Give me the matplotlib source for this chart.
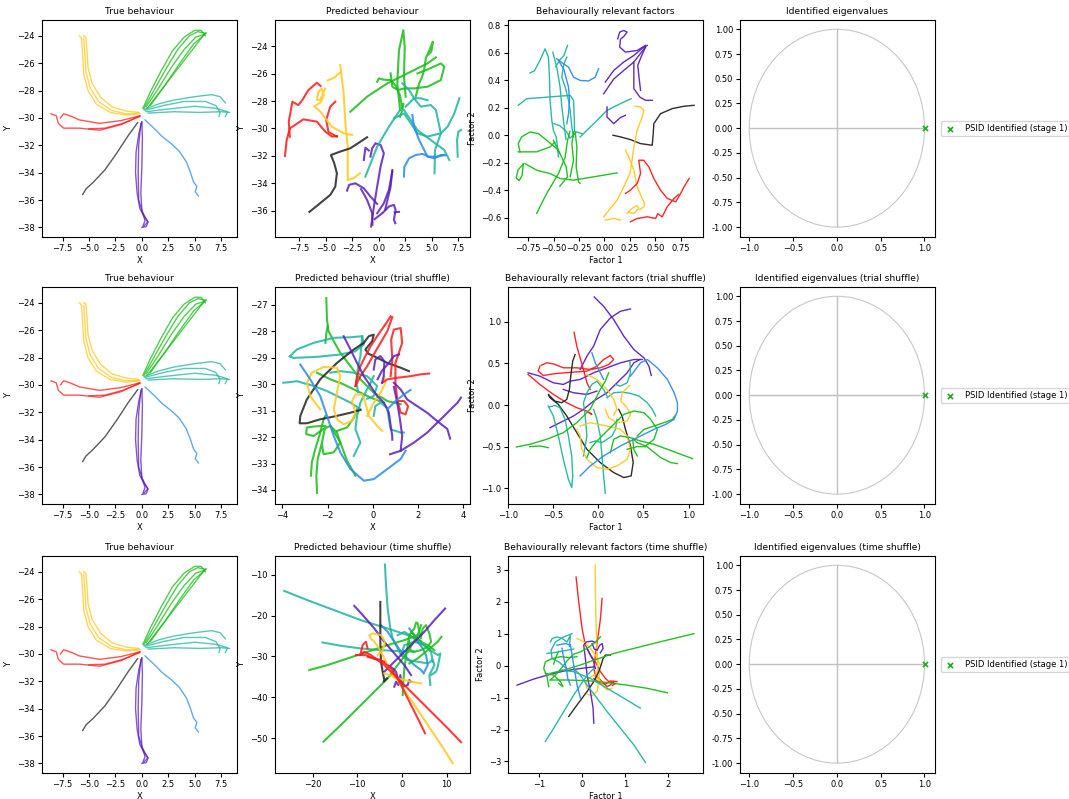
import numpy as np
import matplotlib
matplotlib.use("Agg")
import matplotlib.pyplot as plt
from matplotlib.patches import Circle

COLORS = {
    'red': '#FF1A1A', 'yellow': '#FFC81E', 'black': '#222222', 'purple': '#5A1EBE',
    'blue': '#2D8CE6', 'teal': '#20B4A0', 'green': '#16BE16',
}

# ---- true behaviour (same in all three rows) ----
true_traj = {
    'yellow': [
        [(-0.2, -29.7), (-1.5, -29.8), (-3.0, -29.6), (-4.3, -29.0), (-5.1, -28.0), (-5.5, -26.8), (-5.6, -25.5), (-5.7, -24.2), (-5.9, -24.0)],
        [(-0.3, -29.6), (-1.5, -29.5), (-2.8, -29.2), (-3.9, -28.5), (-4.7, -27.5), (-5.1, -26.3), (-5.2, -25.0), (-5.3, -24.1), (-5.5, -24.0)],
        [(-0.25, -29.65), (-1.5, -29.7), (-2.9, -29.45), (-4.1, -28.8), (-4.9, -27.8), (-5.3, -26.6), (-5.4, -25.3), (-5.5, -24.2)],
    ],
    'red': [
        [(-8.6, -29.7), (-8.1, -29.85), (-7.9, -30.4), (-7.4, -30.75), (-5.9, -30.75), (-4.0, -30.9), (-2.0, -30.5), (-0.2, -29.85)],
        [(-7.7, -30.0), (-7.4, -29.7), (-6.8, -29.85), (-5.9, -30.15), (-4.0, -30.4), (-2.0, -30.2), (-0.2, -29.85)],
        [(-5.0, -30.8), (-3.5, -30.75), (-1.8, -30.4), (-0.2, -29.9)],
    ],
    'black': [
        [(-0.4, -30.35), (-1.3, -31.3), (-2.4, -32.6), (-3.5, -33.8), (-4.6, -34.7), (-5.3, -35.2), (-5.6, -35.6)],
    ],
    'purple': [
        [(0.0, -30.3), (-0.3, -31.2), (-0.55, -32.5), (-0.6, -34.0), (-0.45, -35.5), (-0.2, -36.6), (0.2, -37.2), (0.6, -37.6), (0.4, -37.95), (0.0, -38.0)],
        [(0.0, -30.3), (0.05, -31.5), (0.0, -33.5), (-0.1, -35.5), (0.0, -36.8), (0.35, -37.3), (0.55, -37.6), (0.2, -37.9)],
        [(-0.1, -30.4), (-0.3, -32.0), (-0.35, -34.0), (-0.3, -36.0), (0.1, -37.0), (0.3, -37.5), (0.1, -37.9)],
    ],
    'blue': [
        [(0.3, -30.15), (1.2, -30.8), (1.9, -31.35), (2.8, -31.9), (3.5, -32.4), (4.2, -33.2), (4.6, -34.0), (4.9, -34.7), (5.2, -35.0), (5.05, -35.4), (5.35, -35.7)],
    ],
    'teal': [
        [(0.2, -29.4), (1.5, -29.0), (3.0, -28.7), (5.0, -28.45), (6.6, -28.3), (7.4, -28.45), (7.9, -28.9)],
        [(0.3, -29.45), (2.0, -29.1), (4.0, -28.8), (6.0, -28.8), (7.0, -29.1), (7.4, -29.6), (7.3, -29.9)],
        [(0.4, -29.55), (2.5, -29.35), (5.0, -29.15), (7.0, -29.3), (8.1, -29.55), (7.9, -29.9)],
        [(0.6, -29.65), (3.0, -29.55), (5.5, -29.6), (7.5, -29.55), (8.3, -29.6)],
    ],
    'green': [
        [(0.1, -29.3), (0.8, -28.1), (1.8, -26.6), (2.9, -25.1), (4.0, -24.1), (5.0, -23.6), (5.6, -23.6), (6.0, -24.0)],
        [(0.2, -29.3), (1.2, -27.9), (2.3, -26.4), (3.4, -25.0), (4.5, -24.0), (5.3, -23.7), (5.9, -23.8)],
        [(0.4, -29.2), (1.6, -27.8), (2.8, -26.3), (4.0, -25.0), (5.1, -24.1), (5.9, -23.9)],
        [(0.8, -29.1), (2.2, -27.6), (3.6, -26.0), (4.9, -24.6), (5.8, -24.0), (6.1, -23.8)],
        [(0.5, -29.3), (2.5, -27.3), (4.4, -25.4), (5.6, -24.2), (6.0, -23.8)],
    ],
}

# ---- predicted behaviour ----
pred_plain = {
    'red': [
        [(-8.4, -30.6), (-8.5, -29.5), (-8.16, -28.05), (-7.6, -28.3), (-7.2, -27.9), (-6.65, -27.2), (-5.85, -26.67), (-5.5, -26.9)],
        [(-8.86, -32.0), (-8.7, -30.84), (-8.39, -29.99), (-7.12, -29.33), (-5.85, -29.5), (-5.06, -30.23), (-4.43, -30.59), (-3.96, -30.55)],
        [(-3.96, -30.6), (-4.75, -30.25), (-4.97, -29.38), (-4.59, -28.41), (-4.11, -28.05)],
    ],
    'yellow': [
        [(-3.64, -25.38), (-3.32, -27.44), (-3.16, -29.62), (-2.94, -31.32), (-2.94, -33.75), (-2.37, -33.62), (-1.8, -33.26)],
        [(-4.84, -26.5), (-4.2, -26.3), (-3.64, -25.9)],
        [(-5.06, -27.08), (-5.54, -27.93), (-5.85, -27.9), (-5.7, -27.3), (-5.4, -27.1), (-5.2, -27.6), (-5.5, -28.1), (-6.1, -28.4),
         (-5.54, -28.75), (-4.43, -29.87), (-3.32, -30.35), (-2.53, -30.47)],
    ],
    'black': [
        [(-6.55, -36.07), (-5.54, -35.44), (-4.59, -34.84), (-4.11, -34.23), (-3.96, -33.26), (-4.21, -32.53), (-4.52, -31.93),
         (-3.64, -31.68), (-2.69, -31.44), (-1.74, -30.96), (-1.11, -30.64)],
    ],
    'purple': [
        [(-0.73, -37.14), (-0.47, -35.69), (-0.16, -34.23), (0.16, -32.78), (0.47, -31.81), (0.16, -31.2), (-0.32, -31.08), (-0.63, -31.44), (-0.79, -32.05)],
        [(-1.42, -32.29), (-1.27, -31.4), (-0.95, -31.6)],
        [(-3.0, -34.52), (-2.8, -34.1), (-2.22, -33.99), (-1.42, -34.35), (-0.79, -34.96), (-0.16, -35.49)],
        [(-1.68, -34.41), (-1.11, -35.2), (-0.63, -36.17), (-0.6, -37.0)],
        [(-0.16, -36.17), (0.47, -35.44), (0.95, -34.47), (1.27, -33.14)],
        [(-0.4, -36.6), (0.32, -36.17), (0.95, -35.68), (1.42, -35.56), (1.58, -35.93), (1.42, -36.65), (1.55, -36.9)],
        [(0.6, -35.9), (1.11, -34.23), (1.27, -33.02)],
        [(1.49, -36.1), (1.9, -36.07)],
    ],
    'green': [
        [(2.0, -28.65), (1.74, -26.72), (1.9, -24.29), (2.31, -22.84), (2.44, -24.05), (2.37, -26.23), (2.53, -27.68)],
        [(-2.69, -28.78), (-1.11, -27.68), (0.79, -26.72), (2.69, -25.99), (4.59, -25.26), (5.38, -24.82)],
        [(-0.16, -26.6), (0.0, -26.35), (0.5, -26.45), (1.11, -26.47), (1.6, -26.9), (2.0, -27.6), (2.2, -28.5)],
        [(1.11, -25.99), (1.27, -26.96), (1.8, -27.2), (2.37, -27.08), (3.32, -27.08), (4.59, -26.96), (5.85, -26.47), (6.17, -25.5),
         (5.85, -25.26), (4.6, -25.7), (3.64, -25.99)],
        [(3.48, -27.68), (3.8, -26.72), (4.1, -26.2), (4.27, -25.75), (4.43, -24.9), (4.9, -24.05), (5.1, -23.68), (4.95, -24.4), (4.7, -24.6)],
        [(2.0, -29.14), (2.2, -28.7), (2.3, -28.2)],
    ],
    'teal': [
        [(-1.27, -33.5), (-0.16, -31.32), (0.95, -29.87), (2.0, -28.65)],
        [(1.42, -29.26), (2.37, -28.9), (3.01, -29.62), (3.64, -30.35), (4.59, -30.59), (5.85, -30.35), (6.49, -29.87), (7.12, -28.9), (7.6, -27.8)],
        [(2.22, -26.72), (2.85, -27.2), (3.32, -27.8), (3.96, -28.41), (4.9, -28.29), (5.38, -28.65), (5.85, -30.35), (5.3, -31.56), (5.25, -33.26)],
        [(2.37, -28.65), (3.64, -30.11), (4.9, -30.84), (6.17, -31.56), (6.65, -32.29)],
        [(7.44, -32.05), (7.38, -30.84), (7.5, -30.23), (7.76, -30.11)],
        [(2.53, -28.41), (3.32, -27.8), (3.96, -27.8), (4.6, -27.95)],
    ],
    'blue': [
        [(2.37, -33.5), (2.4, -32.8), (2.85, -32.17), (3.48, -31.93), (4.11, -31.85), (4.75, -32.05), (5.54, -32.05), (6.17, -31.93)],
        [(3.16, -29.02), (3.32, -29.87), (3.8, -30.84), (4.59, -32.05), (5.22, -32.17), (5.85, -31.93), (6.3, -31.95)],
    ],
}

pred_trial = {
    'green': [
        [(-2.06, -26.75), (-2.03, -27.56), (-1.96, -28.0), (-1.73, -28.38), (-1.44, -28.82), (-0.99, -29.32), (-0.55, -29.82), (0.04, -30.32), (0.64, -30.64), (1.23, -30.76)],
        [(-2.1, -28.44), (-2.06, -28.1), (-2.0, -27.8)],
        [(-2.47, -29.57), (-1.88, -29.82), (-1.29, -30.01), (-0.7, -30.26), (-0.1, -30.51), (0.49, -30.7)],
        [(-2.47, -34.11), (-2.5, -33.46), (-2.44, -32.83), (-2.25, -32.21), (-2.1, -31.58), (-2.19, -31.58), (-2.6, -31.6), (-2.92, -31.64),
         (-2.95, -31.89), (-2.62, -31.96), (-2.2, -31.7), (-1.88, -31.58), (-1.59, -31.83), (-1.44, -32.21), (-1.73, -32.58), (-2.18, -32.65), (-2.25, -32.3)],
        [(-2.74, -33.46), (-2.7, -32.96), (-2.55, -32.46), (-2.35, -31.9), (-2.18, -31.33), (-2.1, -31.2)],
        [(-1.88, -31.58), (-1.44, -32.2), (-1.14, -32.9), (-0.77, -33.46)],
        [(-1.59, -31.77), (-1.14, -31.64), (-0.84, -31.27), (-0.7, -30.95)],
    ],
    'teal': [
        [(-3.96, -29.95), (-3.36, -29.89), (-2.62, -30.07), (-2.03, -30.26), (-1.44, -30.51), (-0.99, -30.7), (-0.55, -30.95)],
        [(-3.66, -28.94), (-3.36, -28.69), (-2.62, -28.44), (-1.73, -28.25), (-0.99, -28.23), (-0.47, -28.19), (-0.4, -28.5),
         (-0.77, -28.76), (-1.44, -28.88), (-2.47, -28.97), (-3.51, -29.01), (-3.68, -28.95)],
        [(-1.88, -29.57), (-1.44, -29.51), (-0.84, -29.57), (-0.25, -29.7), (0.19, -30.07), (0.04, -30.45), (-0.25, -30.55)],
        [(-0.84, -32.71), (-0.7, -32.46), (-0.55, -32.21), (-0.77, -31.7), (-0.7, -31.2), (-0.55, -30.7), (-0.33, -30.32), (-0.1, -29.95), (0.04, -29.7)],
        [(0.04, -31.2), (0.11, -30.83), (0.34, -30.7), (0.64, -30.9), (0.71, -31.33), (0.79, -31.71), (1.23, -31.83), (1.38, -31.83)],
        [(-0.47, -28.19), (-0.55, -28.94), (-0.67, -29.45), (-0.73, -29.95), (-0.65, -30.3)],
    ],
    'black': [
        [(-0.55, -30.98), (-0.99, -31.08), (-1.59, -31.2), (-2.33, -31.33), (-2.92, -31.48), (-3.24, -31.48), (-3.21, -31.2), (-2.92, -30.58),
         (-2.33, -29.82), (-1.59, -29.2), (-0.84, -28.69), (-0.4, -28.44), (-0.18, -28.19), (0.04, -28.13), (-0.03, -28.38), (-0.33, -28.69),
         (-0.2, -28.85), (0.04, -28.94), (0.64, -29.2), (1.23, -29.38), (1.6, -29.51)],
    ],
    'yellow': [
        [(-2.33, -30.95), (-2.77, -30.45), (-2.92, -29.95), (-2.7, -29.57), (-2.18, -29.35), (-1.59, -29.38), (-1.44, -29.7), (-1.59, -30.32),
         (-1.73, -30.95), (-1.59, -31.33), (-1.29, -31.52), (-0.92, -31.39), (-0.77, -31.08), (-0.92, -30.64), (-0.77, -30.39), (-0.47, -30.39),
         (-0.33, -30.7), (-0.18, -31.2), (0.19, -31.58), (0.41, -31.77)],
        [(-0.25, -31.2), (0.04, -30.7), (0.34, -30.32), (0.56, -29.95), (0.5, -29.7)],
    ],
    'red': [
        [(-0.77, -30.07), (-0.7, -29.7), (-0.55, -29.32), (-0.33, -28.94), (-0.1, -28.57), (0.19, -28.19), (0.49, -27.82), (0.79, -27.44)],
        [(-0.77, -30.07), (-0.55, -29.7), (-0.25, -29.32), (0.04, -28.88), (0.34, -28.44), (0.64, -28.0), (0.86, -27.47)],
        [(0.79, -29.7), (0.86, -29.07), (0.81, -28.32), (0.93, -27.94), (1.23, -27.88), (1.3, -28.44), (1.0, -29.2), (1.0, -29.95),
         (1.08, -30.58), (1.23, -31.08), (1.45, -31.14), (1.56, -30.83), (1.38, -30.64), (1.08, -30.64)],
        [(0.41, -29.95), (0.64, -29.82), (1.08, -29.76), (1.67, -29.7), (2.12, -29.63), (2.49, -29.6)],
    ],
    'purple': [
        [(-1.29, -28.19), (-0.99, -28.69), (-0.7, -29.2), (-0.4, -29.7), (-0.1, -30.07), (0.19, -30.45), (0.49, -30.7), (0.71, -31.08),
         (0.79, -31.58), (0.86, -31.96), (0.86, -32.1)],
        [(0.04, -29.45), (0.11, -29.07), (0.34, -28.94), (0.51, -29.14), (0.48, -29.7), (0.41, -29.95)],
        [(0.21, -29.82), (0.4, -29.5), (0.71, -29.2), (0.93, -28.94), (1.16, -28.88)],
        [(0.76, -32.65), (1.23, -32.52), (1.82, -32.21), (2.41, -31.83), (2.86, -31.45), (3.16, -31.2), (3.45, -30.95), (3.75, -30.7), (3.9, -30.51)],
        [(3.42, -32.06), (3.3, -31.7), (2.84, -31.39), (2.4, -31.08), (1.96, -30.83), (1.52, -30.58), (1.23, -30.2), (0.93, -29.95)],
        [(1.23, -32.52), (1.3, -31.96), (1.2, -31.33), (1.08, -30.7), (0.93, -30.1)],
    ],
    'blue': [
        [(-3.21, -29.26), (-2.77, -29.82), (-2.33, -30.45), (-2.03, -31.2), (-1.73, -31.96), (-1.44, -32.58), (-0.99, -33.21), (-0.4, -33.65),
         (0.04, -33.59), (0.64, -33.21), (1.23, -32.83), (1.45, -32.52)],
        [(0.64, -30.95), (1.0, -30.64), (1.38, -30.39), (1.67, -30.22)],
    ],
}

pred_time = {
    'teal': [
        [(-26.34, -13.98), (-21.12, -16.26), (-15.15, -18.7), (-9.18, -21.14), (-3.21, -23.17), (1.27, -24.8), (4.25, -26.26)],
        [(-17.76, -26.59), (-13.66, -27.4), (-9.18, -28.05), (-4.7, -28.46), (-0.97, -28.7), (2.76, -28.86)],
        [(-3.81, -7.56), (-3.58, -12.6), (-3.21, -18.29), (-2.61, -23.17), (-2.09, -25.61), (-0.97, -28.05), (-0.22, -29.67), (1.27, -30.9),
         (3.51, -31.3), (5.75, -31.71), (6.87, -30.89), (7.24, -32.11), (6.12, -34.55), (6.34, -37.0)],
        [(-0.97, -24.8), (0.52, -23.98), (2.0, -25.0), (3.5, -26.4), (5.37, -27.64), (6.87, -28.86), (7.99, -29.67), (8.58, -29.27),
         (7.99, -32.52), (7.61, -33.74), (6.5, -34.55)],
        [(-0.22, -29.67), (0.52, -27.24), (2.76, -26.42), (5.0, -27.24), (6.5, -28.9), (6.87, -31.3)],
    ],
    'blue': [
        [(-4.7, -22.36), (-3.21, -23.98), (-1.72, -26.42), (-0.22, -28.86), (1.27, -30.49), (2.76, -32.11), (4.25, -33.33), (4.85, -34.15)],
        [(1.64, -23.17), (2.76, -24.8), (3.51, -26.42), (4.63, -28.05), (5.37, -29.67), (5.75, -32.11), (5.0, -33.74)],
    ],
    'green': [
        [(-17.54, -50.81), (-13.66, -46.75), (-9.93, -42.68), (-6.19, -38.62), (-3.21, -35.37), (-0.97, -32.11), (1.27, -28.86), (3.51, -24.8), (4.25, -22.36)],
        [(-20.75, -33.33), (-16.64, -32.11), (-12.16, -30.49), (-7.69, -28.86), (-3.21, -27.24), (0.52, -26.02), (3.51, -24.8)],
        [(0.15, -39.43), (0.3, -36.18), (0.52, -32.93), (0.9, -30.0), (1.27, -27.2), (1.64, -24.8), (2.76, -23.17), (3.13, -21.71), (3.5, -21.9),
         (3.88, -24.0), (4.2, -25.6), (4.63, -23.17), (5.37, -22.36), (6.12, -24.39), (6.5, -26.42), (5.75, -27.64), (4.25, -28.46), (2.76, -28.86),
         (1.9, -28.5), (1.6, -26.4)],
        [(1.64, -31.71), (3.51, -30.49), (5.75, -28.46), (7.99, -26.42), (8.8, -25.2)],
        [(2.01, -23.98), (3.1, -25.2), (4.25, -26.42), (5.75, -27.24), (7.24, -28.46)],
    ],
    'purple': [
        [(-10.67, -17.64), (-8.43, -20.33), (-6.19, -23.17), (-3.96, -26.42), (-1.72, -29.27), (0.52, -32.11), (2.01, -34.55)],
        [(9.63, -18.29), (7.24, -21.14), (5.0, -23.98), (2.01, -27.24), (-0.22, -29.67), (-2.46, -32.11), (-3.96, -33.74)],
        [(-1.72, -37.4), (-1.34, -36.18), (-0.82, -37.0), (-0.37, -34.55), (-0.2, -36.2), (0.15, -37.4), (1.27, -37.0), (1.64, -35.77), (2.0, -36.2)],
        [(-3.21, -32.11), (-2.1, -32.9), (-1.34, -33.74), (-0.97, -35.2)],
    ],
    'black': [
        [(-4.85, -16.67), (-4.85, -21.54), (-4.85, -26.42), (-4.7, -31.3), (-4.33, -33.74), (-3.96, -35.77), (-4.1, -36.18), (-3.36, -35.37)],
    ],
    'yellow': [
        [(11.34, -56.1), (8.73, -51.63), (5.75, -46.75), (2.76, -41.87), (-0.22, -37.0), (-2.46, -33.74), (-3.96, -30.49), (-5.07, -28.05),
         (-6.19, -26.42), (-6.94, -25.61), (-7.31, -24.8), (-6.57, -24.39), (-4.7, -24.8), (-3.81, -26.42), (-4.33, -28.46), (-5.45, -29.67)],
        [(-3.96, -34.15), (-0.97, -35.37), (2.01, -36.18), (4.25, -36.59)],
    ],
    'red': [
        [(13.21, -50.98), (10.22, -47.56), (6.49, -43.5), (2.76, -39.43), (-0.22, -36.18), (-2.46, -33.74), (-3.96, -32.11), (-5.45, -30.89),
         (-6.94, -29.67), (-8.43, -28.86), (-9.33, -29.67), (-8.81, -27.24), (-8.06, -26.42), (-7.7, -28.05)],
        [(5.15, -48.78), (3.88, -45.93), (2.01, -41.87), (0.52, -38.62), (-0.97, -35.37), (-2.46, -32.93), (-4.7, -30.89), (-6.19, -30.49), (-7.7, -30.1)],
        [(-10.3, -29.67), (-8.06, -29.67), (-6.19, -30.6), (-3.96, -31.3)],
    ],
}

# ---- behaviourally relevant factors ----
fac_plain = {
    'teal': [
        [(-0.734, 0.454), (-0.69, 0.47), (-0.635, 0.546), (-0.585, 0.630), (-0.552, 0.57), (-0.542, 0.424), (-0.536, 0.255), (-0.519, 0.11),
         (-0.503, 0.037), (-0.476, -0.011), (-0.463, -0.084), (-0.453, -0.157)],
        [(-0.509, 0.606), (-0.47, 0.497), (-0.437, 0.352), (-0.42, 0.207), (-0.404, 0.11), (-0.387, 0.013), (-0.38, -0.03)],
        [(-0.849, 0.219), (-0.766, 0.267), (-0.635, 0.274), (-0.47, 0.284), (-0.338, 0.291), (-0.305, 0.255), (-0.298, 0.134), (-0.295, 0.037)],
        [(-0.371, 0.57), (-0.40, 0.52), (-0.42, 0.424), (-0.387, 0.352), (-0.354, 0.255), (-0.338, 0.182), (-0.321, 0.061), (-0.305, -0.011)],
        [(-0.364, 0.655), (-0.40, 0.58), (-0.44, 0.55), (-0.48, 0.50)],
        [(-0.239, -0.011), (-0.107, 0.085), (0.025, 0.182), (0.157, 0.231), (0.262, 0.267)],
        [(-0.496, 0.085), (-0.44, 0.07), (-0.371, 0.025), (-0.34, -0.02), (-0.272, 0.025), (-0.222, 0.013)],
    ],
    'blue': [
        [(-0.47, 0.558), (-0.42, 0.53), (-0.354, 0.497), (-0.305, 0.424), (-0.239, 0.40), (-0.157, 0.396), (-0.091, 0.424), (-0.058, 0.485)],
        [(-0.453, 0.546), (-0.40, 0.48), (-0.354, 0.352), (-0.344, 0.255), (-0.354, 0.158), (-0.371, 0.085)],
    ],
    'purple': [
        [(0.13, 0.703), (0.15, 0.752), (0.19, 0.764), (0.223, 0.752), (0.19, 0.72), (0.157, 0.70), (0.15, 0.643), (0.206, 0.606), (0.321, 0.618), (0.404, 0.655)],
        [(0.008, 0.388), (0.091, 0.473), (0.19, 0.534), (0.289, 0.582), (0.388, 0.643), (0.421, 0.655)],
        [(-0.008, 0.303), (0.091, 0.41), (0.19, 0.473), (0.289, 0.534), (0.404, 0.643)],
        [(0.025, 0.207), (0.025, 0.134), (0.091, 0.085), (0.157, 0.13), (0.206, 0.146)],
        [(0.289, 0.534), (0.289, 0.424), (0.289, 0.34), (0.348, 0.279), (0.404, 0.255), (0.47, 0.255)],
        [(0.355, 0.328), (0.34, 0.424), (0.328, 0.51), (0.36, 0.57), (0.404, 0.643)],
    ],
    'black': [
        [(0.084, 0.001), (0.157, -0.011), (0.256, -0.031), (0.355, -0.06), (0.47, -0.072), (0.48, 0.013), (0.486, 0.085), (0.552, 0.158),
         (0.668, 0.195), (0.783, 0.212), (0.882, 0.219)],
    ],
    'yellow': [
        [(-0.008, -0.593), (0.058, -0.532), (0.124, -0.471), (0.19, -0.375), (0.25, -0.278), (0.272, -0.181), (0.289, -0.084), (0.322, 0.037),
         (0.371, 0.134), (0.388, 0.182), (0.355, 0.207), (0.30, 0.212)],
        [(0.206, -0.108), (0.239, -0.157), (0.289, -0.254), (0.322, -0.375), (0.36, -0.44), (0.394, -0.496), (0.388, -0.52), (0.35, -0.54)],
        [(0.223, -0.568), (0.272, -0.532), (0.32, -0.51), (0.338, -0.532), (0.29, -0.568), (0.24, -0.56)],
        [(0.008, -0.617), (0.091, -0.605), (0.157, -0.617)],
    ],
    'red': [
        [(0.206, -0.423), (0.256, -0.399), (0.322, -0.35), (0.355, -0.278), (0.338, -0.181), (0.386, -0.181), (0.437, -0.23), (0.486, -0.314),
         (0.552, -0.399), (0.618, -0.459), (0.701, -0.484), (0.75, -0.423), (0.783, -0.375), (0.833, -0.314)],
        [(0.256, -0.629), (0.322, -0.605), (0.421, -0.593), (0.503, -0.605), (0.525, -0.57), (0.568, -0.593), (0.618, -0.52), (0.684, -0.46), (0.73, -0.43)],
    ],
    'green': [
        [(-0.668, -0.568), (-0.569, -0.423), (-0.453, -0.278), (-0.387, -0.157), (-0.364, -0.036), (-0.34, 0.03)],
        [(-0.832, -0.12), (-0.849, -0.06), (-0.816, -0.011), (-0.734, 0.025), (-0.651, 0.013), (-0.569, -0.036), (-0.47, -0.096), (-0.44, -0.13)],
        [(-0.849, -0.12), (-0.668, -0.12), (-0.536, -0.084), (-0.49, -0.05)],
        [(-0.783, -0.205), (-0.668, -0.254), (-0.536, -0.278), (-0.437, -0.314), (-0.305, -0.326), (-0.107, -0.302), (0.124, -0.273)],
        [(-0.80, -0.21), (-0.85, -0.25), (-0.87, -0.31), (-0.84, -0.33), (-0.81, -0.29), (-0.80, -0.21)],
        [(-0.338, -0.301), (-0.305, -0.181), (-0.321, -0.06), (-0.305, 0.025), (-0.29, 0.03), (-0.272, -0.084), (-0.279, -0.229), (-0.255, -0.338), (-0.24, -0.35)],
        [(-0.503, -0.036), (-0.44, -0.13), (-0.377, -0.23), (-0.364, -0.302), (-0.44, -0.37)],
    ],
}

fac_trial = {
    'purple': [
        [(-0.045, 1.30), (0.059, 1.188), (0.171, 1.028), (0.283, 0.828), (0.394, 0.668), (0.506, 0.568), (0.561, 0.468), (0.587, 0.356)],
        [(-0.201, 0.428), (-0.126, 0.588), (-0.052, 0.708), (0.022, 0.908), (0.134, 1.048), (0.245, 1.128), (0.357, 1.156)],
        [(-0.535, -0.272), (-0.424, -0.212), (-0.275, -0.132), (-0.164, -0.052), (-0.052, 0.048), (0.097, 0.148), (0.208, 0.268), (0.32, 0.388), (0.394, 0.508), (0.461, 0.548)],
        [(-0.777, 0.388), (-0.647, 0.348), (-0.498, 0.268), (-0.387, 0.248), (-0.312, 0.288), (-0.201, 0.308), (-0.052, 0.388), (0.097, 0.448),
         (0.245, 0.508), (0.394, 0.548), (0.487, 0.548)],
        [(-0.387, 0.188), (-0.275, 0.148), (-0.126, 0.128), (-0.015, 0.168)],
    ],
    'red': [
        [(-0.268, 0.876), (-0.238, 0.708), (-0.201, 0.568), (-0.164, 0.428), (-0.126, 0.268), (-0.089, 0.188)],
        [(-0.777, 0.368), (-0.647, 0.248), (-0.498, 0.128), (-0.349, 0.028), (-0.238, -0.032), (-0.126, -0.072), (-0.071, -0.112), (-0.1, -0.095)],
        [(-0.647, 0.468), (-0.665, 0.408), (-0.61, 0.356), (-0.461, 0.38), (-0.275, 0.396), (-0.126, 0.408), (-0.015, 0.468), (0.059, 0.548),
         (0.134, 0.596), (0.171, 0.548), (0.115, 0.488), (0.022, 0.448), (-0.089, 0.428), (-0.238, 0.448), (-0.387, 0.448), (-0.498, 0.496),
         (-0.572, 0.508), (-0.63, 0.48)],
    ],
    'black': [
        [(-0.257, 0.608), (-0.283, 0.528), (-0.305, 0.348), (-0.32, 0.188), (-0.349, 0.068), (-0.405, 0.028), (-0.48, 0.048), (-0.554, 0.128),
         (-0.535, 0.088), (-0.442, 0.008), (-0.349, -0.132), (-0.238, -0.332), (-0.126, -0.532), (0.022, -0.692), (0.171, -0.812), (0.283, -0.872),
         (0.364, -0.852), (0.387, -0.692), (0.357, -0.492), (0.301, -0.292), (0.264, -0.132), (0.227, -0.052)],
    ],
    'teal': [
        [(-0.554, -0.012), (-0.498, -0.132), (-0.442, -0.372), (-0.387, -0.652), (-0.331, -0.892), (-0.294, -0.992), (-0.283, -0.852),
         (-0.294, -0.612), (-0.331, -0.372), (-0.368, -0.172), (-0.424, -0.032), (-0.48, -0.004), (-0.535, -0.02)],
        [(-0.164, -0.612), (-0.126, -0.372), (-0.145, -0.132), (-0.164, 0.028), (-0.126, 0.148), (-0.071, 0.248), (-0.015, 0.288), (0.059, 0.188), (0.097, 0.108)],
        [(-0.052, -0.052), (-0.015, -0.172), (0.022, -0.372), (0.041, -0.612), (0.059, -0.852), (0.078, -1.06)],
        [(0.097, 0.088), (0.171, 0.148), (0.264, 0.156), (0.357, 0.14), (0.45, 0.108), (0.543, 0.028), (0.599, -0.052), (0.636, -0.132)],
        [(0.19, 0.248), (0.245, 0.228), (0.32, 0.268), (0.357, 0.388), (0.35, 0.528)],
        [(-0.089, -0.452), (-0.033, -0.432), (0.041, -0.452), (0.097, -0.412), (0.152, -0.372), (0.19, -0.292), (0.208, -0.172)],
    ],
    'yellow': [
        [(-0.238, -0.292), (-0.201, -0.372), (-0.182, -0.532), (-0.126, -0.652), (-0.015, -0.752), (0.097, -0.772), (0.208, -0.732), (0.32, -0.652),
         (0.357, -0.532), (0.32, -0.372), (0.245, -0.292), (0.097, -0.252), (-0.089, -0.212), (-0.201, -0.252)],
        [(-0.126, 0.368), (-0.015, 0.308), (0.097, 0.188), (0.171, 0.068), (0.208, -0.052), (0.17, -0.12)],
        [(0.078, -0.052), (0.115, -0.152), (0.208, -0.212), (0.32, -0.192), (0.357, -0.112), (0.32, -0.032), (0.25, 0.048), (0.264, 0.148),
         (0.32, 0.208), (0.35, 0.236)],
    ],
    'green': [
        [(-0.907, -0.504), (-0.758, -0.472), (-0.572, -0.412), (-0.387, -0.332), (-0.238, -0.212), (-0.164, -0.132), (-0.09, -0.05), (-0.033, 0.068),
         (0.022, 0.188), (0.078, 0.288), (0.115, 0.388)],
        [(-0.554, -0.512), (-0.647, -0.492), (-0.758, -0.50)],
        [(-0.126, -0.632), (-0.089, -0.532), (-0.03, -0.45), (0.041, -0.372), (0.115, -0.292), (0.208, -0.192), (0.283, -0.112), (0.394, -0.072),
         (0.506, -0.092), (0.58, -0.172), (0.654, -0.292), (0.617, -0.412), (0.524, -0.492), (0.431, -0.452), (0.38, -0.4), (0.394, -0.532), (0.431, -0.612)],
        [(0.134, -0.572), (0.171, -0.412), (0.245, -0.372), (0.357, -0.392), (0.468, -0.432), (0.617, -0.472), (0.766, -0.532), (0.914, -0.592), (1.045, -0.644)],
        [(0.32, -0.532), (0.43, -0.5), (0.54, -0.5), (0.691, -0.632), (0.803, -0.692), (0.877, -0.704)],
        [(0.431, -0.372), (0.506, -0.292), (0.617, -0.252), (0.747, -0.204), (0.822, -0.172), (0.848, -0.132)],
    ],
    'blue': [
        [(-0.201, -0.852), (-0.089, -0.732), (0.059, -0.612), (0.245, -0.492), (0.431, -0.392), (0.617, -0.292), (0.747, -0.232), (0.84, -0.172),
         (0.877, -0.072), (0.877, 0.028), (0.84, 0.148), (0.766, 0.308), (0.654, 0.448), (0.543, 0.548), (0.468, 0.508), (0.412, 0.428), (0.357, 0.348)],
        [(-0.071, 0.628), (-0.033, 0.508), (0.022, 0.388), (0.059, 0.308)],
    ],
}

fac_time = {
    'red': [
        [(-0.145, 2.77), (-0.083, 1.99), (-0.005, 1.16), (0.072, 0.64), (0.189, 0.33), (0.305, 0.12), (0.422, -0.19), (0.538, -0.4), (0.616, -0.5), (0.772, -0.56), (0.70, -0.62)],
        [(0.461, 2.1), (0.422, 1.47), (0.36, 0.85), (0.305, 0.33), (0.267, -0.09), (0.305, -0.3), (0.461, -0.5), (0.577, -0.66), (0.655, -0.6), (0.733, -0.5)],
        [(0.267, -0.4), (0.422, -0.56), (0.54, -0.58), (0.65, -0.48), (0.81, -0.5)],
    ],
    'yellow': [
        [(0.298, 3.14), (0.305, 2.41), (0.313, 1.68), (0.329, 0.95), (0.344, 0.33), (0.36, -0.09), (0.33, -0.38)],
        [(-0.122, 0.85), (0.033, 0.74), (0.189, 0.54), (0.305, 0.33), (0.42, 0.02)],
        [(0.111, -0.71), (0.072, -0.55), (0.15, -0.4), (0.267, -0.3), (0.40, -0.2), (0.383, -0.5), (0.344, -0.81), (0.228, -0.94), (0.12, -0.9)],
        [(0.267, -0.3), (0.40, -0.45), (0.5, -0.66), (0.577, -0.76), (0.69, -0.71)],
    ],
    'purple': [
        [(-1.52, -0.61), (-1.13, -0.42), (-0.82, -0.3), (-0.43, -0.17), (-0.044, -0.09), (0.267, -0.04)],
        [(0.267, -1.8), (0.251, -1.33), (0.189, -0.81), (0.111, -0.3), (0.072, 0.22), (0.033, 0.64), (0.096, 0.74), (0.228, 0.77), (0.30, 0.72)],
        [(0.228, 0.69), (0.28, 0.52), (0.344, 0.48), (0.406, 0.64), (0.461, 0.69), (0.484, 0.54), (0.42, 0.40)],
        [(0.111, 0.54), (0.189, 0.33), (0.267, 0.12), (0.305, -0.09)],
    ],
    'black': [
        [(-0.316, -1.59), (-0.122, -1.23), (0.111, -0.81), (0.267, -0.5), (0.383, -0.19), (0.437, 0.02), (0.484, 0.22), (0.538, 0.33), (0.655, 0.33)],
    ],
    'green': [
        [(2.6, 1.0), (1.98, 0.8), (1.35, 0.59), (0.733, 0.38), (0.267, 0.17), (-0.044, 0.02), (-0.433, -0.14), (-0.744, -0.24)],
        [(1.98, -0.85), (1.51, -0.71), (1.04, -0.61), (0.577, -0.53), (0.111, -0.47), (-0.355, -0.45), (-0.744, -0.45)],
        [(-0.782, -0.66), (-0.82, -0.35), (-0.899, -0.09), (-0.86, 0.12), (-0.705, 0.22), (-0.51, 0.28), (-0.316, 0.25), (-0.122, 0.28)],
        [(-0.744, -0.45), (-0.59, -0.25), (-0.47, -0.05), (-0.355, 0.15), (-0.2, 0.36), (-0.044, 0.43), (0.111, 0.54), (0.267, 0.69), (0.422, 0.9)],
        [(-0.86, -0.24), (-0.666, -0.3), (-0.51, -0.5), (-0.45, -0.66), (-0.55, -0.56)],
        [(-0.666, 0.05), (-0.62, 0.25), (-0.55, 0.45)],
    ],
    'teal': [
        [(-0.86, -2.37), (-0.666, -1.96), (-0.433, -1.44), (-0.2, -0.92), (-0.044, -0.61), (0.111, -0.3), (0.267, -0.09)],
        [(1.47, -3.03), (1.2, -2.48), (0.888, -1.96), (0.577, -1.44), (0.344, -1.02), (0.111, -0.61), (-0.044, -0.3), (-0.2, -0.09)],
        [(1.35, -1.33), (0.966, -1.02), (0.577, -0.71), (0.189, -0.4), (-0.2, -0.19), (-0.51, -0.14)],
        [(-0.744, 0.74), (-0.70, 0.85), (-0.588, 0.9), (-0.47, 0.85), (-0.355, 0.74), (-0.277, 0.95), (-0.30, 0.6)],
        [(-0.238, 1.0), (-0.433, 0.9), (-0.627, 0.74), (-0.728, 0.48), (-0.705, 0.22), (-0.55, 0.12), (-0.37, -0.09)],
        [(-0.821, 0.38), (-0.59, 0.42), (-0.355, 0.48), (-0.2, 0.52)],
    ],
    'blue': [
        [(-0.277, 0.64), (-0.238, 0.33), (-0.2, 0.02), (-0.161, -0.3), (-0.122, -0.61), (-0.044, -1.02)],
        [(-0.472, 0.54), (-0.433, 0.22), (-0.37, -0.09), (-0.339, -0.4), (-0.277, -0.61)],
        [(-0.588, 0.64), (-0.394, 0.69), (-0.277, 0.64)],
    ],
}

eig_real = [1.005]
eig_imag = [0.0]

row_suffix = ['', ' (trial shuffle)', ' (time shuffle)']
pred_rows = [pred_plain, pred_trial, pred_time]
fac_rows = [fac_plain, fac_trial, fac_time]

pred_lims = [((-9.8, 8.6), (-37.9, -22.1)), ((-4.33, 4.3), (-34.53, -26.33)), ((-28.4, 15.2), (-58.5, -5.45))]
pred_ticks = [([-7.5, -5, -2.5, 0, 2.5, 5, 7.5], [-24, -26, -28, -30, -32, -34, -36]),
              ([-4, -2, 0, 2, 4], [-27, -28, -29, -30, -31, -32, -33, -34]),
              ([-20, -10, 0, 10], [-10, -20, -30, -40, -50])]
fac_lims = [((-0.95, 0.97), (-0.74, 0.84)), ((-1.0, 1.16), (-1.19, 1.42)), ((-1.73, 2.81), (-3.36, 3.43))]
fac_ticks = [([-0.75, -0.5, -0.25, 0, 0.25, 0.5, 0.75], [-0.6, -0.4, -0.2, 0.0, 0.2, 0.4, 0.6, 0.8]),
             ([-1.0, -0.5, 0.0, 0.5, 1.0], [-1.0, -0.5, 0.0, 0.5, 1.0]),
             ([-1, 0, 1, 2], [-3, -2, -1, 0, 1, 2, 3])]
eig_ticks = [-1.0, -0.75, -0.5, -0.25, 0.0, 0.25, 0.5, 0.75, 1.0]

W, H = 1069, 799
fig = plt.figure(figsize=(W / 100, H / 100), dpi=100)
lefts = [42, 275, 508, 740]
tops = [20, 287, 556]
aw, ah = 195, 217


def make_ax(col, row):
    return fig.add_axes([lefts[col] / W, 1 - (tops[row] + ah) / H, aw / W, ah / H])


def draw(ax, traj, lw, alpha):
    for name, traces in traj.items():
        for tr in traces:
            a = np.array(tr)
            ax.plot(a[:, 0], a[:, 1], color=COLORS[name], lw=lw, alpha=alpha)


def style(ax, title, xl, yl):
    ax.set_title(title, fontsize=6.6, pad=4)
    ax.tick_params(labelsize=6, length=3, pad=2)
    if xl:
        ax.set_xlabel(xl, fontsize=6, labelpad=2)
    if yl:
        ax.set_ylabel(yl, fontsize=6, labelpad=3)


for r in range(3):
    ax = make_ax(0, r)
    draw(ax, true_traj, 1.0, 0.75)
    ax.set_xlim(-9.45, 9.0)
    ax.set_ylim(-38.7, -22.85)
    ax.set_xticks([-7.5, -5, -2.5, 0, 2.5, 5, 7.5])
    ax.set_yticks([-24, -26, -28, -30, -32, -34, -36, -38])
    style(ax, 'True behaviour', 'X', 'Y')

    ax = make_ax(1, r)
    draw(ax, pred_rows[r], 1.5, 0.85)
    ax.set_xlim(*pred_lims[r][0])
    ax.set_ylim(*pred_lims[r][1])
    ax.set_xticks(pred_ticks[r][0])
    ax.set_yticks(pred_ticks[r][1])
    style(ax, 'Predicted behaviour' + row_suffix[r], 'X', 'Y')

    ax = make_ax(2, r)
    draw(ax, fac_rows[r], 1.0, 0.95)
    ax.set_xlim(*fac_lims[r][0])
    ax.set_ylim(*fac_lims[r][1])
    ax.set_xticks(fac_ticks[r][0])
    ax.set_yticks(fac_ticks[r][1])
    style(ax, 'Behaviourally relevant factors' + row_suffix[r], 'Factor 1', 'Factor 2')

    ax = make_ax(3, r)
    ax.add_patch(Circle((0, 0), 1.0, fill=False, edgecolor='#c8c8c8', lw=0.8))
    ax.hlines(0, -1, 1, color='#c0c0c0', lw=1.0)
    ax.vlines(0, -1, 1, color='#c0c0c0', lw=1.0)
    ax.scatter(eig_real, eig_imag, marker='x', color='#22AA22', s=14, linewidths=1.2,
               label='PSID Identified (stage 1)', zorder=3)
    ax.set_xlim(-1.106, 1.12)
    ax.set_ylim(-1.1, 1.094)
    ax.set_xticks([-1.0, -0.5, 0.0, 0.5, 1.0])
    ax.set_yticks(eig_ticks)
    ax.set_yticklabels(['%.2f' % v for v in eig_ticks])
    style(ax, 'Identified eigenvalues' + row_suffix[r], None, None)
    ax.legend(loc='center left', bbox_to_anchor=(1.03, 0.5), borderaxespad=0, fontsize=6,
              handletextpad=1.0, handlelength=1.5, scatterpoints=1)

fig.savefig('out.png', dpi=100)
